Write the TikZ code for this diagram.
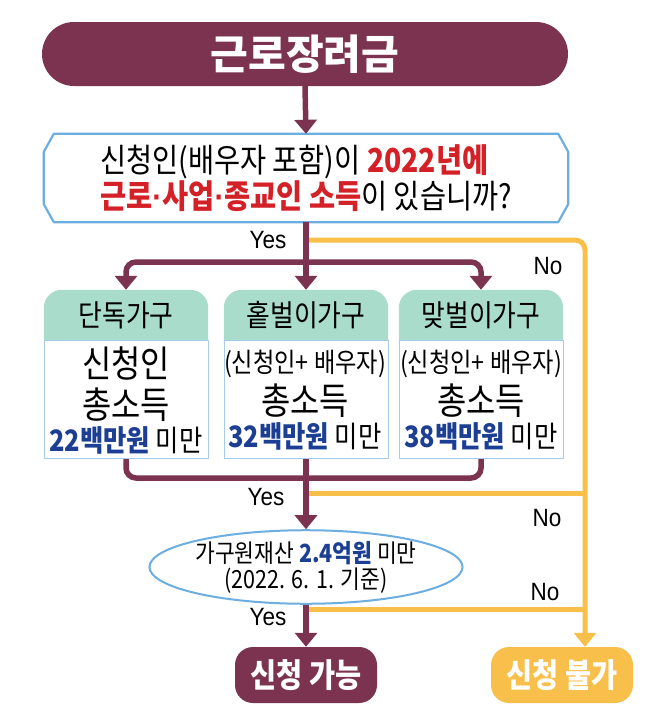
\documentclass[tikz,border=0pt]{standalone}
\usepackage{fontspec}
\setmainfont{Noto Sans CJK KR}
\newfontfamily\kr[FakeStretch=0.86]{Noto Sans CJK KR}
\newfontfamily\lat[FakeStretch=0.9]{Liberation Sans}
\newcommand\mdot{{\lat ·}}
\usetikzlibrary{arrows.meta,calc,backgrounds,shapes.geometric}
\definecolor{cMar}{HTML}{7B334F}
\definecolor{cOr}{HTML}{F9BF4B}
\definecolor{cTeal}{HTML}{A9DCCB}
\definecolor{cBlue}{HTML}{6CAEE0}
\definecolor{cLight}{HTML}{A8CBE8}
\definecolor{cRed}{HTML}{D42027}
\definecolor{cNavy}{HTML}{1C3F94}
\newcommand\fsz[2]{\fontsize{#1}{#2}\selectfont\lineskiplimit=-1000pt\lineskip=0pt}
\begin{document}
\begin{tikzpicture}[x=1pt,y=-1pt,
  >={Triangle[length=14pt,width=22pt]},
  mline/.style={draw=cMar,line width=5.5pt},
  oline/.style={draw=cOr,line width=5pt},
  qline/.style={draw=cBlue,line width=2.2pt,line join=round},
  pill/.style={fill=cMar,text=white,rounded corners=32pt,minimum width=526pt,minimum height=64pt,inner sep=0pt,font=\fontsize{41}{41}\selectfont\bfseries},
  hdr/.style={minimum width=164pt,minimum height=50pt,inner sep=0pt,font=\kr\fontsize{30}{30}\selectfont},
  bodyb/.style={anchor=north,fill=white,draw=cLight,line width=1pt,minimum width=164pt,minimum height=118pt,inner sep=0pt},
  big/.style={inner sep=0pt,font=\kr\fontsize{37}{37}\selectfont},
  small/.style={inner sep=0pt,font=\kr\fontsize{27}{27}\selectfont},
  amt/.style={inner sep=0pt,font=\kr\fontsize{29.5}{30}\selectfont},
  lbl/.style={inner sep=0pt,font=\lat\fontsize{25}{25}\selectfont},
  endbox/.style={rounded corners=18pt,minimum width=142pt,minimum height=56pt,inner sep=0pt,text=white,font=\kr\fontsize{33}{33}\selectfont\bfseries}
]
\useasboundingbox (0,0) rectangle (647,720);

% title
\node[pill] (title) at (305,54) {근로장려금};

% question
\node[minimum width=524pt,minimum height=88pt,inner sep=0pt,align=left,font=\kr\fsz{33}{36}] (q) at (306,178)
  {신청인(배우자 포함)이 \textcolor{cRed}{\bfseries 2022년에}\\\textcolor{cRed}{\bfseries 근로\mdot 사업\mdot 종교인 소득}이 있습니까?};
\draw[qline] ($(q.north west)+(10,0)$) -- ($(q.north east)+(-10,0)$) -- ($(q.north east)+(0,18)$)
  -- ($(q.south east)+(0,-18)$) -- ($(q.south east)+(-10,0)$) -- ($(q.south west)+(10,0)$)
  -- ($(q.south west)+(0,-18)$) -- ($(q.north west)+(0,18)$) -- cycle;

% household boxes
\node[hdr] (h1) at (126,315) {단독가구};
\node[hdr] (h2) at (306,315) {홑벌이가구};
\node[hdr] (h3) at (481,315) {맞벌이가구};
\begin{scope}[on background layer]
  \fill[cTeal,rounded corners=18pt] (h1.north west) rectangle ($(h1.south east)+(0,20)$);
  \fill[cTeal,rounded corners=18pt] (h2.north west) rectangle ($(h2.south east)+(0,20)$);
  \fill[cTeal,rounded corners=18pt] (h3.north west) rectangle ($(h3.south east)+(0,20)$);
\end{scope}
\node[bodyb] (b1) at (126,340) {};
\node[bodyb] (b2) at (306,340) {};
\node[bodyb] (b3) at (481,340) {};

\node[big] (t1a) at (126,364) {신청인};
\node[big] (t1b) at (126,405) {총소득};
\node[amt] (t1c) at (126,440) {\textcolor{cNavy}{\bfseries 22백만원} 미만};

\node[small] (t2a) at (305,364) {(신청인+ 배우자)};
\node[big] (t2b) at (305,401) {총소득};
\node[amt] (t2c) at (305,436) {\textcolor{cNavy}{\bfseries 32백만원} 미만};

\node[small] (t3a) at (481,364) {(신청인+ 배우자)};
\node[big] (t3b) at (481,401) {총소득};
\node[amt] (t3c) at (481,436) {\textcolor{cNavy}{\bfseries 38백만원} 미만};

% ellipse
\node[ellipse,draw=cBlue,line width=2pt,fill=white,minimum width=297pt,minimum height=71pt,inner sep=0pt,align=center,font=\kr\fsz{25}{26}] (ell) at (306,567)
  {가구원재산 \textcolor{cNavy}{\bfseries 2.4억원} 미만\\(2022. 6. 1. 기준)};

% end boxes
\node[endbox,fill=cMar] (yesbox) at (306,675) {신청 가능};
\node[endbox,fill=cOr] (nope) at (562,675) {신청 불가};

% coordinates
\coordinate (j1) at (306,240);
\coordinate (br) at (306,262);
\coordinate (mg) at (306,478);
\coordinate (j2) at (306,493);
\coordinate (j3) at (306,609);
\coordinate (oc) at (585,0);

% orange connectors
\draw[oline,->,rounded corners=10pt] (j1) -| (nope.north -| oc);
\draw[oline] (j2) -- (j2 -| oc);
\draw[oline] (j3) -- (j3 -| oc);

% maroon connectors
\draw[mline,->] (title.south) -- (q.north);
\draw[mline,->] (q.south) -- (h2.north);
\draw[mline,<->,rounded corners=10pt] (h1.north) |- (br) -| (h3.north);
\draw[mline,rounded corners=10pt] (b1.south) |- (mg) -| (b3.south);
\draw[mline,->] (b2.south) -- (ell.north);
\draw[mline,->] (ell.south) -- (yesbox.north);

% labels
\node[lbl] (yes1) at (268,240) {Yes};
\node[lbl] (no1) at (548,266) {No};
\node[lbl] (yes2) at (266,497) {Yes};
\node[lbl] (no2) at (547,518) {No};
\node[lbl] (no3) at (545,592) {No};
\node[lbl] (yes3) at (268,617) {Yes};
\end{tikzpicture}
\end{document}
